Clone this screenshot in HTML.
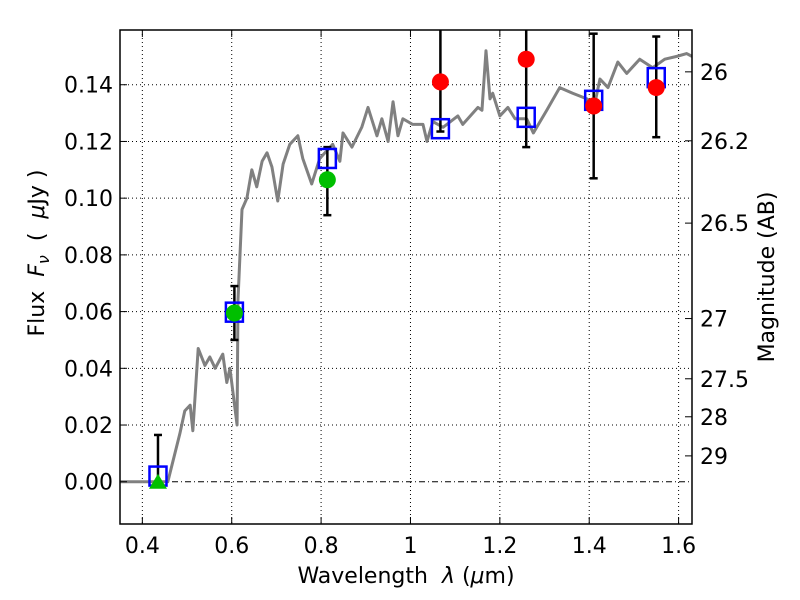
<!DOCTYPE html>
<html><head><meta charset="utf-8"><style>
body{margin:0;background:#fff}
svg{display:block;font-family:"DejaVu Sans","Liberation Sans",sans-serif}
</style></head><body>
<svg id="chart" width="800" height="600" viewBox="0 0 800 600">
<rect x="0" y="0" width="800" height="600" fill="#fff"/>
<g id="grid"></g>
<g id="plot"></g>
<g id="axes"></g>
<text x="406" y="583" font-size="22" text-anchor="middle" xml:space="preserve">Wavelength  <tspan font-style="italic">λ</tspan> (<tspan font-style="italic">μ</tspan>m)</text>
<text transform="translate(44,253) rotate(-90)" font-size="22" text-anchor="middle" xml:space="preserve">Flux  <tspan font-style="italic">F</tspan><tspan font-style="italic" font-size="16" dy="5">ν</tspan><tspan dy="-5">  (  </tspan><tspan font-style="italic">μ</tspan>Jy )</text>
<text transform="translate(774,277) rotate(-90)" font-size="22" text-anchor="middle">Magnitude (AB)</text>
</svg>
<script>
const specX=[0.35,0.40,0.45,0.457,0.484,0.495,0.507,0.513,0.525,0.540,0.551,0.563,0.580,0.589,0.596,0.612,0.614,0.623,0.634,0.645,0.656,0.668,0.679,0.690,0.703,0.715,0.730,0.748,0.759,0.779,0.797,0.826,0.842,0.849,0.869,0.891,0.905,0.925,0.936,0.950,0.961,0.972,0.983,1.005,1.028,1.037,1.050,1.073,1.106,1.117,1.151,1.160,1.169,1.178,1.184,1.200,1.218,1.234,1.260,1.275,1.305,1.334,1.363,1.395,1.408,1.424,1.442,1.464,1.484,1.513,1.542,1.569,1.596,1.618,1.63];
const specY=[0,0,0,0,0.017,0.025,0.027,0.018,0.047,0.041,0.044,0.040,0.045,0.035,0.040,0.020,0.064,0.096,0.100,0.110,0.104,0.113,0.116,0.111,0.099,0.112,0.119,0.122,0.114,0.105,0.114,0.119,0.113,0.123,0.118,0.125,0.132,0.122,0.128,0.120,0.134,0.122,0.128,0.126,0.126,0.120,0.127,0.125,0.129,0.126,0.132,0.131,0.152,0.135,0.137,0.129,0.132,0.128,0.128,0.123,0.131,0.139,0.137,0.135,0.130,0.142,0.139,0.148,0.144,0.149,0.146,0.149,0.150,0.151,0.150];
const modelX=[0.435,0.606,0.814,1.067,1.259,1.41,1.55];
const modelY=[0.002,0.0598,0.114,0.1245,0.1285,0.1345,0.1425];
const greenX=[0.606,0.814];
const greenY=[0.0595,0.1065];
const greenLo=[0.050,0.094];
const greenHi=[0.069,0.118];
const limX=[0.435];
const limY=[0.0];
const limHi=[0.0165];
const redX=[1.067,1.259,1.41,1.55];
const redY=[0.141,0.149,0.1325,0.139];
const redLo=[0.1235,0.118,0.107,0.1215];
const redHi=[0.17,0.17,0.158,0.157];
const xTicks=[0.4,0.6,0.8,1.0,1.2,1.4,1.6];
const xTickLabels=["0.4","0.6","0.8","1","1.2","1.4","1.6"];
const yTicks=[0,0.02,0.04,0.06,0.08,0.10,0.12,0.14];
const yTickLabels=["0.00","0.02","0.04","0.06","0.08","0.10","0.12","0.14"];
const magTicks=[26,26.2,26.5,27,27.5,28,29];
const magLabels=["26","26.2","26.5","27","27.5","28","29"];

const L=120,R=692,T=30,B=524,X0=0.35,X1=1.63,Y0=-0.0149,Y1=0.1593;
const sx=v=>L+(v-X0)/(X1-X0)*(R-L);
const sy=v=>B-(v-Y0)/(Y1-Y0)*(B-T);
const NS="http://www.w3.org/2000/svg";
function mk(tag,attrs,parent){const e=document.createElementNS(NS,tag);for(const k in attrs)e.setAttribute(k,attrs[k]);parent.appendChild(e);return e;}
const grid=document.getElementById('grid'),plot=document.getElementById('plot'),axes=document.getElementById('axes');
const cp=mk('clipPath',{id:'clip'},plot);
mk('rect',{x:L,y:T,width:R-L,height:B-T},cp);
xTicks.forEach((v,i)=>{
  const g=mk('line',{x1:sx(v),x2:sx(v),y1:T,y2:B,stroke:'#000','stroke-width':1,'stroke-dasharray':'1,3'},grid);
  
  
  const t=mk('line',{x1:sx(v),x2:sx(v),y1:B,y2:B-7,stroke:'#000'},axes);
  
  
  const t2=mk('line',{x1:sx(v),x2:sx(v),y1:T,y2:T+7,stroke:'#000'},axes);
  
  
  const lb=mk('text',{x:sx(v),y:B+29,'font-size':22,'text-anchor':'middle'},axes);
  lb.textContent=xTickLabels[i];
  
  
});
yTicks.forEach((v,i)=>{
  if(v!==0){const g=mk('line',{x1:L,x2:R,y1:sy(v),y2:sy(v),stroke:'#000','stroke-width':1,'stroke-dasharray':'1,3'},grid);
  
  }
  const t=mk('line',{x1:L,x2:L+7,y1:sy(v),y2:sy(v),stroke:'#000'},axes);
  
  
  const lb=mk('text',{x:L-7,y:sy(v)+8,'font-size':22,'text-anchor':'end'},axes);
  lb.textContent=yTickLabels[i];
  
  
});
const zl=mk('line',{x1:L,x2:R,y1:sy(0),y2:sy(0),stroke:'#000','stroke-width':1,'stroke-dasharray':'6,3,1,3'},grid);


magTicks.forEach((m,i)=>{
  const f=Math.pow(10,(23.9-m)/2.5);
  const t=mk('line',{x1:R,x2:R-7,y1:sy(f),y2:sy(f),stroke:'#000'},axes);
  
  
  const lb=mk('text',{x:R+8,y:sy(f)+8,'font-size':22},axes);
  lb.textContent=magLabels[i];
  
  
});
const cg=mk('g',{'clip-path':'url(#clip)'},plot);
const sp=mk('polyline',{points:specX.map((x,i)=>sx(x)+','+sy(specY[i])).join(' '),fill:'none',stroke:'#808080','stroke-width':3,'stroke-linejoin':'round'},cg);


function err(x,lo,hi,name){
  const g=mk('g',{stroke:'#000','stroke-width':2.5},cg);
  
  
  mk('line',{x1:sx(x),x2:sx(x),y1:sy(lo),y2:sy(hi)},g);
  mk('line',{x1:sx(x)-4,x2:sx(x)+4,y1:sy(lo),y2:sy(lo)},g);
  mk('line',{x1:sx(x)-4,x2:sx(x)+4,y1:sy(hi),y2:sy(hi)},g);
}
limX.forEach((x,i)=>err(x,limY[i],limHi[i],'upper-limit-errorbar'));
greenX.forEach((x,i)=>err(x,greenLo[i],greenHi[i],'green-errorbar'));
redX.forEach((x,i)=>err(x,redLo[i],redHi[i],'red-errorbar'));
modelX.forEach((x,i)=>{
  const r=mk('rect',{x:sx(x)-8.5,y:sy(modelY[i])-9.5,width:17,height:19,fill:'none',stroke:'#0000ff','stroke-width':2.5},cg);
  
  
});
limX.forEach((x,i)=>{
  const px=sx(x),py=sy(limY[i]);
  const p=mk('polygon',{points:`${px},${py-8} ${px-9},${py+7} ${px+9},${py+7}`,fill:'#00bf00'},cg);
  
  
});
greenX.forEach((x,i)=>{
  const c=mk('circle',{cx:sx(x),cy:sy(greenY[i]),r:8.5,fill:'#00bf00'},cg);
  
  
});
redX.forEach((x,i)=>{
  const c=mk('circle',{cx:sx(x),cy:sy(redY[i]),r:8.5,fill:'#ff0000'},cg);
  
  
});
const fr=mk('rect',{x:L,y:T,width:R-L,height:B-T,fill:'none',stroke:'#000','stroke-width':1.5},axes);


</script>
</body></html>
